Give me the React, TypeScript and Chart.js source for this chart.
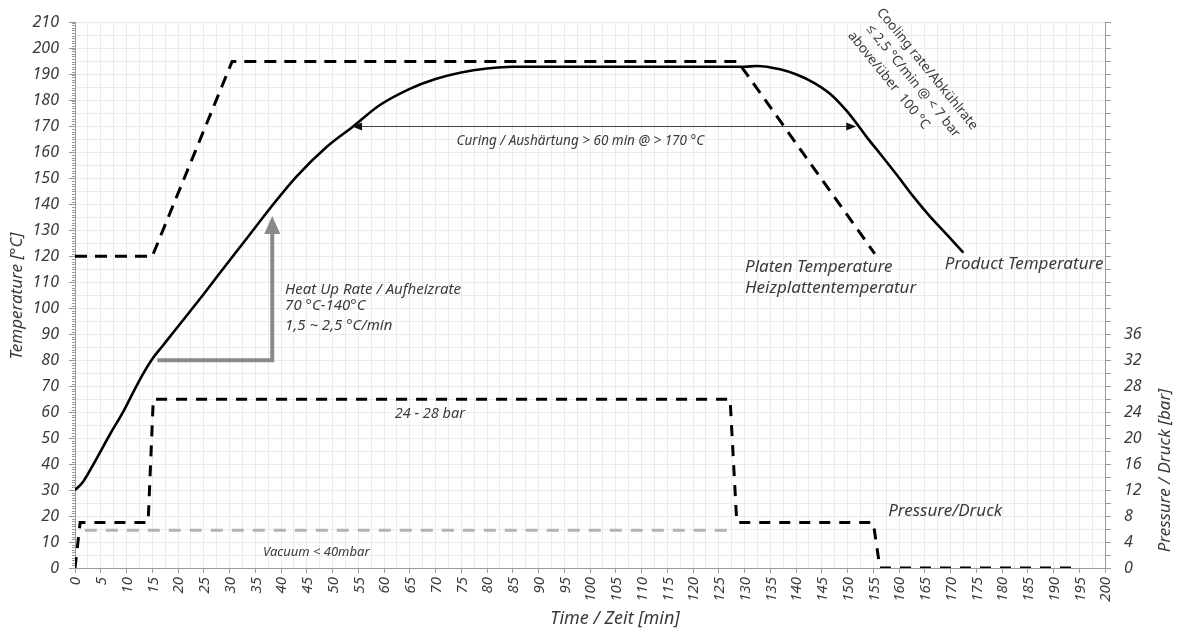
import React, { useEffect, useRef } from "react";
import { Chart, registerables } from "chart.js";

Chart.register(...registerables);

// ---------- data ----------
const platenTime = [0, 15, 30.5, 128.7, 155.3];
const platenTemp = [120, 120, 195, 195, 121];

const productTime = [0, 1.5, 3.6, 6.8, 9.4, 11, 13, 15, 17, 20, 25, 28.2, 33, 38.2, 43, 48.9, 54, 59, 65, 70, 75, 80, 85, 130, 132.4, 136.9, 140.1, 143.4, 146.6, 149.8, 151.8, 153.7, 156.3, 159.6, 162.8, 166, 169.3, 172.5];
const productTemp = [30, 33, 40, 51.5, 60.3, 66.5, 74, 80.5, 85.5, 93, 105.5, 113.8, 126, 139.3, 150.7, 162.2, 170, 178, 184.5, 188.3, 190.8, 192.3, 193, 193, 193.3, 192, 190, 186.9, 182.6, 176.1, 171.1, 166, 159.6, 151.3, 143, 135.4, 128.4, 121.4];

const pressureTime = [0, 1, 14.2, 15.2, 127.2, 128.5, 155, 156.3, 195];
const pressureBar = [0, 7, 7, 26, 26, 7, 7, 0, 0];

const vacuumTime = [1.9, 127];
const vacuumBar = [5.8, 5.8];

const X_MIN = 0, X_MAX = 200, X_GRID_STEP = 2.5, X_LABEL_STEP = 5;
const Y_MIN = 0, Y_MAX = 210, Y_GRID_STEP = 5, Y_LABEL_STEP = 10;
const P_MAX = 84, P_TICK_STEP = 2, P_LABEL_STEP = 4, P_LABEL_MAX = 36;

const curingArrow = { from: 53.8, to: 151.7, temp: 170 };
const heatUpArrow = { startTime: 16, cornerTime: 38.3, baseTemp: 80, tipTemp: 135.5 };

type Lbl = { text: string; x: number; y: number; size: number; italic: boolean };
const textLabels: Lbl[] = [
  { text: "Curing / Aushärtung > 60 min @ > 170 °C", x: 74.1, y: 162.8, size: 13.5, italic: true },
  { text: "Heat Up Rate / Aufheizrate", x: 40.8, y: 105.5, size: 15, italic: true },
  { text: "70 °C-140°C", x: 40.8, y: 99.3, size: 15, italic: true },
  { text: "1,5 ~ 2,5 °C/min", x: 40.8, y: 91.6, size: 15, italic: true },
  { text: "Platen Temperature", x: 130.1, y: 114.1, size: 17, italic: true },
  { text: "Heizplattentemperatur", x: 130.1, y: 105.8, size: 17, italic: true },
  { text: "Product Temperature", x: 168.9, y: 115.3, size: 17, italic: true },
  { text: "Pressure/Druck", x: 157.9, y: 19.9, size: 17, italic: true },
  { text: "24 - 28 bar", x: 62.1, y: 57.7, size: 14.5, italic: true },
  { text: "Vacuum < 40mbar", x: 36.5, y: 4.6, size: 13, italic: true },
];
const coolingLines = ["Cooling rate/Abkühlrate", "≤ 2,5 °C/min @ < 7 bar", "above/über  100 °C"];
const coolingAnchor = { x: 157.2, y: 216.5 };

const FONT = '"Noto Sans", "Open Sans", sans-serif';
const TEXT_COLOR = "#3a3a3a";
const AXIS_COLOR = "#9a9a9a";
const GRID_COLOR = "#ebebeb";

const annotations = {
  id: "annotations",
  afterDatasetsDraw(chart: any) {
    const { ctx, scales, chartArea } = chart;
    const xs = scales.x, ys = scales.y, y1 = scales.y1;
    ctx.save();

    // minor ticks on left axis
    ctx.strokeStyle = AXIS_COLOR;
    ctx.lineWidth = 1;
    for (let v = Y_MIN; v <= Y_MAX; v += 1) {
      const py = Math.round(ys.getPixelForValue(v)) + 0.5;
      ctx.beginPath();
      ctx.moveTo(chartArea.left - 3, py);
      ctx.lineTo(chartArea.left, py);
      ctx.stroke();
    }

    // x tick labels (rotated, reading upward)
    ctx.fillStyle = TEXT_COLOR;
    ctx.font = `italic 15px ${FONT}`;
    ctx.textAlign = "right";
    ctx.textBaseline = "middle";
    for (let v = X_MIN; v <= X_MAX; v += X_LABEL_STEP) {
      ctx.save();
      ctx.translate(xs.getPixelForValue(v) + 1, chartArea.bottom + 9);
      ctx.rotate(-Math.PI / 2);
      ctx.fillText(String(v), 0, 0);
      ctx.restore();
    }

    // heat up arrow
    const hx0 = xs.getPixelForValue(heatUpArrow.startTime);
    const hx1 = xs.getPixelForValue(heatUpArrow.cornerTime);
    const hyb = ys.getPixelForValue(heatUpArrow.baseTemp);
    const hyt = ys.getPixelForValue(heatUpArrow.tipTemp);
    ctx.strokeStyle = "#8a8a8a";
    ctx.fillStyle = "#8a8a8a";
    ctx.lineWidth = 4;
    ctx.lineJoin = "miter";
    ctx.beginPath();
    ctx.moveTo(hx0, hyb);
    ctx.lineTo(hx1, hyb);
    ctx.lineTo(hx1, hyt + 16);
    ctx.stroke();
    ctx.beginPath();
    ctx.moveTo(hx1, hyt);
    ctx.lineTo(hx1 - 8, hyt + 18);
    ctx.lineTo(hx1 + 8, hyt + 18);
    ctx.closePath();
    ctx.fill();

    // curing double arrow
    const cx0 = xs.getPixelForValue(curingArrow.from);
    const cx1 = xs.getPixelForValue(curingArrow.to);
    const cy = ys.getPixelForValue(curingArrow.temp);
    ctx.strokeStyle = "#444";
    ctx.fillStyle = "#111";
    ctx.lineWidth = 1.2;
    ctx.beginPath();
    ctx.moveTo(cx0 + 8, cy);
    ctx.lineTo(cx1 - 8, cy);
    ctx.stroke();
    ctx.beginPath();
    ctx.moveTo(cx0, cy);
    ctx.lineTo(cx0 + 10, cy - 4);
    ctx.lineTo(cx0 + 10, cy + 4);
    ctx.closePath();
    ctx.fill();
    ctx.beginPath();
    ctx.moveTo(cx1, cy);
    ctx.lineTo(cx1 - 10, cy - 4);
    ctx.lineTo(cx1 - 10, cy + 4);
    ctx.closePath();
    ctx.fill();

    // text labels
    ctx.fillStyle = TEXT_COLOR;
    ctx.textBaseline = "alphabetic";
    ctx.textAlign = "left";
    for (const l of textLabels) {
      ctx.font = `${l.italic ? "italic " : ""}${l.size}px ${FONT}`;
      ctx.fillText(l.text, xs.getPixelForValue(l.x), ys.getPixelForValue(l.y));
    }

    // cooling rotated text
    ctx.save();
    ctx.translate(xs.getPixelForValue(coolingAnchor.x), ys.getPixelForValue(coolingAnchor.y));
    ctx.rotate((51 * Math.PI) / 180);
    ctx.font = `13.5px ${FONT}`;
    ctx.textBaseline = "top";
    coolingLines.forEach((t, i) => {
      ctx.fillText(t, i === 1 ? 6 : 0, i * 18.5);
    });
    ctx.restore();

    // axis titles
    ctx.textAlign = "center";
    ctx.textBaseline = "middle";
    ctx.font = `italic 18px ${FONT}`;
    ctx.fillText("Time / Zeit [min]", 615, 619);
    ctx.font = `italic 17px ${FONT}`;
    ctx.save();
    ctx.translate(17.5, 296);
    ctx.rotate(-Math.PI / 2);
    ctx.fillText("Temperature [°C]", 0, 0);
    ctx.restore();
    ctx.save();
    ctx.translate(1165, y1.getPixelForValue(15));
    ctx.rotate(-Math.PI / 2);
    ctx.fillText("Pressure / Druck [bar]", 0, 0);
    ctx.restore();

    ctx.restore();
  },
};

const toPts = (xs: number[], ys: number[]) => xs.map((x, i) => ({ x, y: ys[i] }));

export default function App() {
  const ref = useRef<HTMLCanvasElement>(null);
  useEffect(() => {
    document.body.style.margin = "0";
    const chart = new Chart(ref.current!, {
      type: "line",
      data: {
        datasets: [
          {
            label: "Product Temperature",
            data: toPts(productTime, productTemp),
            borderColor: "#000",
            borderWidth: 2.6,
            pointRadius: 0,
            cubicInterpolationMode: "monotone",
            yAxisID: "y",
          },
          {
            label: "Platen Temperature",
            data: toPts(platenTime, platenTemp),
            borderColor: "#000",
            borderWidth: 3,
            borderDash: [12, 8],
            pointRadius: 0,
            tension: 0,
            yAxisID: "y",
          },
          {
            label: "Pressure",
            data: toPts(pressureTime, pressureBar),
            borderColor: "#000",
            borderWidth: 3,
            borderDash: [11, 9],
            pointRadius: 0,
            tension: 0,
            yAxisID: "y1",
          },
          {
            label: "Vacuum",
            data: toPts(vacuumTime, vacuumBar),
            borderColor: "#b3b3b3",
            borderWidth: 3,
            borderDash: [12, 9],
            pointRadius: 0,
            tension: 0,
            yAxisID: "y1",
          },
        ],
      },
      options: {
        responsive: false,
        animation: false,
        layout: { padding: { top: 18, left: 0, right: 0, bottom: 0 } },
        plugins: { legend: { display: false }, tooltip: { enabled: false } },
        scales: {
          x: {
            type: "linear",
            min: X_MIN,
            max: X_MAX,
            afterFit: (s: any) => { s.height = 62; },
            border: { color: AXIS_COLOR },
            grid: {
              color: GRID_COLOR,
              tickLength: 5,
              tickColor: (c: any) => (c.tick && c.tick.value % X_LABEL_STEP === 0 ? AXIS_COLOR : "rgba(0,0,0,0)"),
            },
            ticks: {
              stepSize: X_GRID_STEP,
              autoSkip: false,
              display: false,
            },
          },
          y: {
            type: "linear",
            position: "left",
            min: Y_MIN,
            max: Y_MAX,
            afterFit: (s: any) => { s.width = 75; },
            border: { color: AXIS_COLOR },
            grid: {
              color: GRID_COLOR,
              tickLength: 6,
              tickColor: (c: any) => (c.tick && c.tick.value % Y_LABEL_STEP === 0 ? AXIS_COLOR : "rgba(0,0,0,0)"),
            },
            ticks: {
              stepSize: Y_GRID_STEP,
              autoSkip: false,
              padding: 10,
              color: TEXT_COLOR,
              font: { family: FONT, size: 16, style: "italic" },
              callback: (v: any) => (Number(v) % Y_LABEL_STEP === 0 ? String(v) : ""),
            },
          },
          y1: {
            type: "linear",
            position: "right",
            min: 0,
            max: P_MAX,
            afterFit: (s: any) => { s.width = 74; },
            border: { color: AXIS_COLOR },
            grid: { drawOnChartArea: false, tickLength: 6, tickColor: AXIS_COLOR },
            ticks: {
              stepSize: P_TICK_STEP,
              autoSkip: false,
              padding: 13,
              color: TEXT_COLOR,
              font: { family: FONT, size: 16, style: "italic" },
              callback: (v: any) => (Number(v) % P_LABEL_STEP === 0 && Number(v) <= P_LABEL_MAX ? String(v) : ""),
            },
          },
        },
      },
      plugins: [annotations],
    } as any);
    return () => chart.destroy();
  }, []);
  return (
    <div style={{ position: "absolute", left: 0, top: 0, width: 1179, height: 630, background: "#fff" }}>
      <canvas ref={ref} width={1179} height={630} />
    </div>
  );
}
